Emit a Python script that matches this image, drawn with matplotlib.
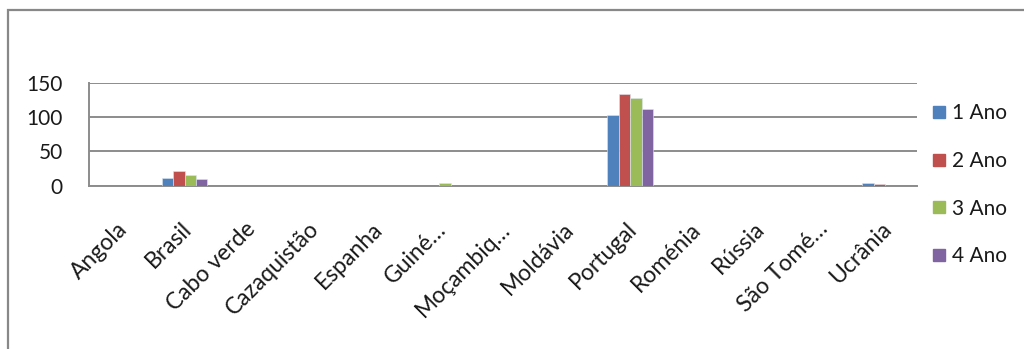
import matplotlib
matplotlib.use("Agg")
import matplotlib.pyplot as plt
import matplotlib.transforms as mtransforms
from matplotlib.lines import Line2D
from matplotlib.patches import Rectangle
import numpy as np

# Dados
paises = ["Angola", "Brasil", "Cabo verde", "Cazaquistão", "Espanha", "Guiné…",
          "Moçambiq…", "Moldávia", "Portugal", "Roménia", "Rússia", "São Tomé…", "Ucrânia"]
ano1 = [0, 11, 0, 0, 0, 0, 0, 0, 104, 0, 0, 0, 4]
ano2 = [0, 21, 0, 0, 0, 0, 0, 0, 134, 0, 0, 0, 2]
ano3 = [0, 15, 0, 0, 0, 3, 0, 0, 129, 0, 0, 0, 0]
ano4 = [0, 9, 0, 0, 0, 0, 0, 0, 113, 0, 0, 0, 0]
series = ["1 Ano", "2 Ano", "3 Ano", "4 Ano"]
cores = ["#4F81BD", "#C0504D", "#9BBB59", "#8064A2"]

plt.rcParams['font.family'] = ['Lato', 'DejaVu Sans']

fig = plt.figure(figsize=(10.24, 3.49), dpi=100)
ax = fig.add_axes([89 / 1024, 1 - 185.5 / 349, 828 / 1024, 102.2 / 349])

x = np.arange(len(paises))
w = 0.18
for i, (vals, cor) in enumerate(zip([ano1, ano2, ano3, ano4], cores)):
    ax.bar(x + (i - 1.5) * w, vals, width=w, color=cor, edgecolor="#dde6f0",
           linewidth=0.4, zorder=3)

ax.set_xlim(-0.5, len(paises) - 0.5)
ax.set_ylim(0, 150)
ax.set_yticks([0, 50, 100, 150])
ax.yaxis.grid(True, color="#8c8c8c", linewidth=1.4, zorder=0)
for s in ["top", "right"]:
    ax.spines[s].set_visible(False)
for s in ["left", "bottom"]:
    ax.spines[s].set_color("#8c8c8c")
    ax.spines[s].set_linewidth(1.4)
ax.tick_params(length=0, labelsize=15, colors="#1a1a1a")
ax.tick_params(axis="y", pad=19)
ax.tick_params(axis="x", pad=29, labelsize=16.5)

ax.set_xticks(x)
ax.set_xticklabels(paises, rotation=45, ha="right", rotation_mode="anchor")
off = mtransforms.ScaledTranslation(2.5 / 72, 0, fig.dpi_scale_trans)
for lbl in ax.get_xticklabels():
    lbl.set_transform(lbl.get_transform() + off)
    lbl.set_va("center")

# Legenda
handles = [Line2D([], [], linestyle="none", marker="s", markersize=9,
                  markerfacecolor=c, markeredgecolor=c) for c in cores]
fig.legend(handles, series, loc="upper left", bbox_to_anchor=(918 / 1024, 1 - 95 / 349),
           frameon=False, fontsize=15, labelcolor="#1a1a1a", handletextpad=0.05,
           labelspacing=1.33, handlelength=1.2, borderaxespad=0)

# Moldura do gráfico
fig.patches.append(Rectangle((8 / 1024, -0.1), 1.2, 1 - 10.5 / 349 + 0.1,
                             transform=fig.transFigure, fill=False,
                             edgecolor="#888888", linewidth=1.6))

fig.savefig("out.png", dpi=100)
